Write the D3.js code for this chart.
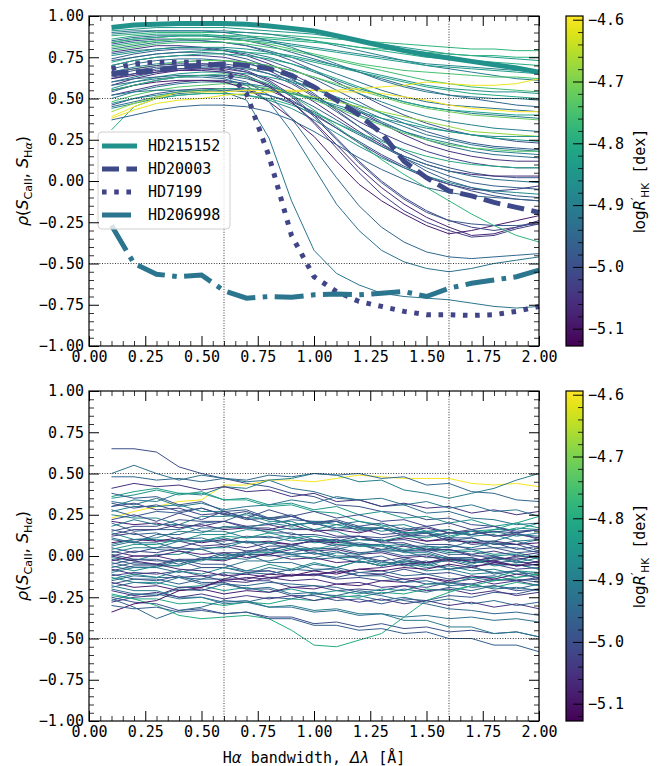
<!DOCTYPE html>
<html>
<head>
<meta charset="utf-8">
<script src="https://cdn.jsdelivr.net/npm/d3@7"></script>
<style>
  body { margin: 0; background: #fff; }
  text { font-family: 'DejaVu Sans Mono', monospace; fill: #000; }
</style>
</head>
<body>
<svg id="chart" width="659" height="766"></svg>
<script>
// H-alpha bandwidths (Angstrom) at which the correlation was computed
const bandwidths = [0.1, 0.2, 0.3, 0.4, 0.5, 0.6, 0.7, 0.8, 0.9, 1.0,
                    1.1, 1.2, 1.3, 1.4, 1.5, 1.6, 1.7, 1.8, 1.9, 2.0];

const xTicks = [0, 0.25, 0.5, 0.75, 1.0, 1.25, 1.5, 1.75, 2.0];
const yTicks = [-1, -0.75, -0.5, -0.25, 0, 0.25, 0.5, 0.75, 1.0];
const cbarTicks = [-5.1, -5.0, -4.9, -4.8, -4.7, -4.6];
const refX = [0.6, 1.6];
const refY = [-0.5, 0.5];
const cbarDomain = [-5.128, -4.594];

// top panel: activity level of each star (log R'HK) and rho x 100
const topLogR = [-4.78, -4.84, -4.90, -4.80, -4.95, -4.88, -5.00, -4.83, -4.93, -4.76,
                 -5.05, -4.91, -4.86, -4.97, -4.81, -5.02, -4.94, -4.89, -4.72, -4.98,
                 -4.92, -5.06, -4.84, -4.96, -5.04, -4.90, -4.74, -5.00, -4.93, -4.87,
                 -5.09, -4.92, -4.95, -4.93, -4.80, -4.68, -4.60, -4.61, -5.07, -5.02,
                 -4.97, -4.86, -4.99, -4.82, -4.75, -4.91, -4.79, -4.96, -5.03, -4.78];
const topRho = [
  [88, 89, 90, 90, 90, 90, 90, 89, 88, 87, 86, 85, 84, 83, 82, 81, 80, 80, 79, 79],
  [91, 92, 93, 93, 93, 93, 92, 91, 90, 89, 87, 85, 83, 81, 79, 77, 76, 75, 74, 73],
  [89, 90, 91, 91, 91, 91, 90, 89, 87, 85, 82, 79, 76, 73, 70, 68, 66, 64, 62, 61],
  [86, 88, 89, 89, 89, 88, 87, 86, 85, 84, 83, 81, 79, 77, 75, 74, 73, 72, 71, 70],
  [85, 87, 88, 88, 88, 87, 85, 82, 78, 74, 70, 66, 62, 58, 55, 52, 50, 48, 46, 45],
  [84, 86, 87, 88, 88, 87, 86, 85, 83, 81, 79, 77, 75, 73, 71, 70, 69, 68, 67, 66],
  [83, 85, 86, 86, 85, 84, 82, 78, 73, 67, 60, 53, 46, 40, 35, 31, 28, 26, 24, 23],
  [82, 84, 85, 86, 86, 86, 85, 84, 82, 80, 78, 76, 74, 72, 70, 69, 68, 67, 66, 65],
  [80, 82, 84, 85, 85, 84, 82, 79, 75, 70, 65, 60, 55, 51, 48, 46, 45, 44, 43, 42],
  [79, 81, 83, 84, 84, 84, 83, 81, 79, 76, 73, 70, 67, 64, 61, 59, 57, 56, 55, 54],
  [78, 80, 82, 82, 81, 79, 76, 71, 65, 58, 50, 42, 35, 28, 22, 18, 15, 13, 12, 12],
  [77, 79, 80, 81, 81, 80, 78, 75, 71, 66, 61, 56, 52, 48, 45, 43, 41, 40, 39, 38],
  [76, 78, 80, 81, 81, 81, 80, 78, 76, 73, 70, 67, 64, 61, 58, 56, 55, 54, 54, 53],
  [74, 77, 79, 80, 80, 79, 77, 73, 68, 62, 55, 48, 41, 35, 30, 26, 23, 21, 20, 19],
  [72, 75, 77, 78, 79, 79, 78, 77, 75, 72, 69, 66, 63, 60, 57, 55, 53, 52, 51, 50],
  [70, 73, 75, 76, 76, 75, 72, 67, 60, 52, 44, 36, 29, 23, 18, 14, 11, 9, 8, 8],
  [68, 71, 73, 74, 74, 73, 71, 68, 63, 57, 50, 43, 36, 30, 25, 21, 18, 16, 15, 14],
  [66, 69, 71, 72, 73, 73, 72, 70, 67, 63, 58, 53, 48, 43, 39, 36, 34, 32, 31, 30],
  [65, 68, 70, 72, 73, 73, 72, 70, 67, 63, 59, 55, 51, 47, 44, 42, 40, 39, 38, 37],
  [62, 65, 68, 70, 71, 71, 69, 65, 59, 51, 42, 33, 25, 18, 12, 8, 5, 3, 2, 2],
  [60, 63, 66, 68, 69, 69, 68, 65, 61, 56, 50, 44, 38, 33, 28, 25, 22, 20, 19, 18],
  [58, 62, 65, 67, 68, 68, 66, 62, 56, 48, 39, 30, 22, 15, 10, 6, 4, 3, 3, 3],
  [56, 60, 63, 65, 66, 66, 65, 63, 60, 56, 51, 46, 41, 37, 33, 30, 28, 26, 25, 24],
  [54, 58, 61, 63, 64, 64, 62, 58, 52, 45, 37, 29, 21, 14, 8, 3, -1, -3, -4, -5],
  [52, 55, 58, 60, 61, 61, 59, 55, 49, 41, 32, 23, 15, 8, 2, -2, -5, -6, -5, -3],
  [50, 54, 57, 59, 60, 60, 59, 57, 54, 50, 45, 40, 35, 30, 26, 23, 20, 18, 17, 16],
  [48, 52, 55, 57, 58, 59, 58, 56, 53, 49, 44, 39, 34, 29, 25, 22, 20, 19, 18, 18],
  [46, 50, 53, 55, 56, 56, 55, 52, 47, 40, 32, 24, 16, 9, 3, -2, -6, -9, -11, -12],
  [45, 48, 51, 53, 54, 55, 54, 52, 48, 42, 35, 28, 21, 15, 10, 6, 3, 1, 0, -1],
  [44, 47, 50, 52, 53, 53, 52, 49, 44, 37, 29, 21, 14, 8, 3, -1, -4, -6, -7, -8],
  [55, 58, 60, 61, 61, 60, 56, 48, 38, 27, 12, -2, -12, -20, -27, -32, -30, -27, -24, -21],
  [52, 54, 55, 55, 55, 54, 49, 26, -12, -42, -56, -63, -68, -70, -71, -72, -74, -76, -77, -76],
  [60, 62, 63, 64, 64, 63, 60, 52, 38, 20, 2, -15, -28, -37, -43, -46, -47, -46, -45, -44],
  [58, 60, 62, 63, 63, 62, 58, 48, 30, 8, -14, -30, -42, -49, -53, -55, -53, -50, -48, -46],
  [31, 45, 50, 52, 53, 53, 52, 50, 46, 41, 35, 29, 24, 19, 15, 12, 10, 9, 8, 8],
  [42, 47, 51, 54, 55, 56, 56, 55, 53, 51, 48, 45, 42, 39, 36, 33, 30, 29, 28, 27],
  [39, 45, 50, 54, 54, 54, 55, 55, 55, 55, 54, 54, 53, 51, 49, 46, 44, 43, 42, 42],
  [38, 43, 47, 49, 50, 52, 53, 54, 54, 55, 55, 56, 57, 58, 60, 59, 58, 58, 59, 62],
  [62, 64, 66, 67, 67, 66, 63, 57, 48, 36, 22, 8, -4, -14, -22, -28, -33, -32, -28, -24],
  [66, 68, 70, 71, 71, 70, 67, 61, 52, 40, 26, 12, 0, -10, -18, -24, -28, -30, -28, -25],
  [73, 75, 77, 78, 78, 77, 74, 69, 62, 53, 43, 33, 23, 14, 6, 0, -4, -7, -9, -10],
  [47, 50, 52, 54, 55, 56, 56, 55, 53, 50, 46, 42, 38, 35, 32, 30, 28, 27, 27, 27],
  [64, 67, 69, 70, 70, 69, 66, 60, 51, 39, 25, 11, -1, -11, -19, -24, -26, -27, -27, -26],
  [70, 73, 75, 76, 77, 77, 76, 74, 71, 67, 62, 57, 52, 48, 45, 43, 42, 41, 40, 40],
  [81, 83, 85, 86, 86, 86, 85, 83, 80, 77, 74, 71, 69, 67, 66, 65, 64, 63, 63, 62],
  [90, 91, 91, 91, 91, 90, 88, 85, 81, 76, 71, 66, 61, 57, 54, 52, 51, 50, 50, 49],
  [84, 86, 87, 88, 88, 88, 88, 87, 86, 85, 83, 81, 80, 79, 78, 77, 76, 76, 75, 75],
  [37, 40, 43, 45, 46, 46, 45, 42, 37, 30, 22, 14, 7, 1, -4, -7, -9, -10, -11, -12],
  [63, 65, 67, 68, 68, 67, 64, 58, 48, 35, 20, 5, -8, -18, -25, -30, -34, -33, -29, -26],
  [55, 58, 61, 63, 64, 65, 63, 59, 52, 43, 33, 23, 13, 4, -4, -12, -20, -27, -33, -37]
];

// highlighted stars in the top panel
const hlNames = ['HD215152', 'HD20003', 'HD7199', 'HD206998'];
const hlLogR = [-4.86, -5.01, -5.02, -4.92];
const hlDash = ['none', '17,7.4', '4.6,7.6', '29,7.4,4.6,7.4'];
const hlRho = [
  [93, 94.5, 95, 95.5, 95.5, 95.5, 95, 94, 92.5, 91, 88, 85, 82, 79, 76.5, 74.5, 72.5, 70.5, 68.5, 66],
  [65, 66, 67, 69, 70, 71, 70, 68, 64, 57, 49, 40, 29, 12, 2, -6, -9, -13, -16, -19],
  [68, 71, 72, 72, 72, 68, 53, 15, -33, -58, -67, -73, -76, -79, -81, -81, -81.5, -81, -79, -76],
  [-27, -50, -56.5, -58, -57, -66.5, -71, -70, -70.5, -69, -68.5, -69, -68, -67, -70, -65, -62, -60, -58, -54]
];

// bottom panel: activity level and rho x 100
const bottomLogR = [-5.00, -4.93, -4.60, -4.90, -4.95, -5.05, -4.85, -4.92, -4.82, -5.02,
                    -4.97, -4.88, -5.08, -4.95, -4.91, -5.00, -4.86, -5.04, -4.96, -5.10,
                    -4.93, -4.99, -4.84, -5.06, -4.90, -4.97, -5.02, -4.88, -4.95, -5.08,
                    -4.92, -5.00, -4.86, -4.99, -5.05, -4.90, -4.96, -5.02, -4.85, -4.94,
                    -5.08, -4.98, -4.81, -4.93, -5.05, -5.00, -4.95, -4.80, -5.10, -4.97,
                    -4.91, -5.03, -4.89, -5.00, -4.94, -4.98, -5.01, -4.93, -4.96, -5.04,
                    -4.90, -4.87, -5.00, -4.95, -5.07];
const bottomRho = [
  [65, 65, 63, 54, 50, 47, 44, 42, 38, 36, 31, 30, 27, 26, 22, 23, 19, 18, 15, 16],
  [50, 55, 50, 46, 49, 47, 45, 46, 41, 39, 35, 34, 30, 31, 26, 27, 23, 22, 19, 20],
  [23, 27, 30, 33, 34, 43, 43, 46, 46, 45, 47, 49, 48, 47, 47, 47, 44, 43, 44, 42],
  [30, 34, 33, 38, 37, 42, 41, 46, 47, 50, 49, 45, 46, 40, 38, 35, 38, 41, 46, 50],
  [48, 48, 46, 47, 45, 47, 46, 49, 48, 50, 49, 50, 47, 48, 43, 44, 39, 38, 34, 33],
  [41, 44, 42, 43, 40, 42, 39, 40, 36, 38, 33, 34, 30, 32, 29, 30, 26, 28, 25, 27],
  [35, 37, 40, 37, 39, 34, 35, 31, 32, 28, 30, 25, 27, 23, 24, 20, 22, 18, 20, 17],
  [33, 31, 35, 30, 32, 28, 30, 31, 34, 32, 36, 34, 35, 31, 33, 29, 31, 27, 28, 24],
  [36, 39, 41, 38, 38, 34, 34, 30, 31, 27, 26, 21, 19, 14, 14, 11, 15, 16, 20, 24],
  [30, 32, 28, 29, 25, 26, 22, 23, 19, 20, 16, 17, 13, 14, 9, 11, 7, 8, 4, 6],
  [28, 24, 27, 26, 29, 25, 23, 19, 22, 21, 21, 17, 17, 14, 14, 11, 11, 7, 7, 3],
  [25, 23, 23, 19, 24, 24, 25, 21, 21, 16, 15, 10, 10, 6, 6, 3, 4, 1, 2, -1],
  [21, 19, 20, 17, 19, 16, 17, 16, 19, 15, 16, 14, 17, 15, 17, 14, 15, 12, 13, 11],
  [20, 15, 16, 16, 20, 21, 26, 23, 24, 20, 21, 17, 17, 14, 14, 9, 9, 5, 5, 2],
  [18, 22, 19, 19, 15, 15, 11, 12, 9, 10, 7, 8, 6, 7, 4, 6, 5, 8, 7, 10],
  [15, 18, 18, 22, 21, 21, 17, 17, 13, 13, 11, 12, 9, 10, 7, 7, 4, 5, 2, 3],
  [14, 10, 10, 9, 13, 13, 16, 15, 17, 16, 19, 16, 17, 14, 15, 12, 15, 14, 17, 16],
  [12, 14, 9, 9, 6, 7, 5, 8, 7, 9, 6, 7, 4, 6, 3, 4, 1, 3, 0, 2],
  [10, 8, 13, 13, 17, 17, 18, 14, 14, 10, 10, 6, 7, 3, 4, 1, 1, -2, -1, -4],
  [8, 10, 9, 11, 8, 10, 8, 9, 7, 9, 8, 10, 9, 11, 9, 10, 8, 9, 7, 8],
  [6, 9, 4, 3, -1, -1, -2, 2, 2, 5, 4, 7, 3, 3, -1, -1, -4, -3, -6, -5],
  [5, 2, 5, 5, 9, 9, 12, 11, 12, 9, 10, 7, 7, 3, 3, -1, -1, -5, -5, -8],
  [4, 7, 7, 10, 9, 12, 11, 14, 11, 12, 9, 10, 9, 12, 11, 14, 13, 16, 16, 20],
  [3, 0, 0, -3, -2, -3, 1, 1, 4, 3, 4, 1, 2, -1, 0, -3, -2, -3, 0, -1],
  [2, 5, 5, 9, 9, 11, 8, 8, 4, 4, 0, 0, -4, -4, -7, -6, -9, -8, -11, -10],
  [1, -2, -2, -5, -1, -1, 3, 3, 7, 4, 5, 2, 3, 0, 1, -2, -1, -4, -3, -6],
  [0, 3, 2, 5, 4, 6, 3, 4, 1, 2, -1, 0, -3, -1, -4, -3, -6, -5, -8, -7],
  [-1, -3, 1, 1, 5, 5, 9, 8, 11, 8, 9, 6, 6, 2, 2, -2, -2, -6, -5, -8],
  [-2, -5, -5, -6, -2, -2, 1, 0, 1, -2, -1, -4, -3, -6, -5, -8, -7, -10, -9, -12],
  [-3, 0, 0, 3, 1, 2, -1, 1, -2, -1, -4, -3, -6, -3, -4, -1, -4, -3, -6, -5],
  [-4, -7, -7, -10, -7, -7, -3, -3, 0, -1, 2, 1, 4, 3, 6, 5, 9, 9, 13, 12],
  [-5, -2, -3, -3, -7, -7, -10, -9, -12, -11, -14, -13, -15, -14, -17, -16, -19, -18, -21, -20],
  [-6, -9, -6, -6, -2, -2, 2, 2, 5, 4, 7, 6, 7, 4, 5, 2, 3, 0, 1, -2],
  [-7, -4, -5, -2, -5, -5, -9, -9, -12, -11, -13, -10, -11, -8, -11, -10, -13, -12, -15, -14],
  [-8, -11, -10, -13, -12, -15, -13, -14, -11, -12, -9, -12, -11, -14, -13, -16, -14, -17, -15, -18],
  [-10, -7, -7, -3, -3, 1, 1, 4, 1, 2, -1, -1, -5, -5, -9, -8, -11, -10, -13, -11],
  [-11, -14, -14, -17, -14, -14, -10, -11, -8, -9, -7, -10, -9, -12, -11, -14, -13, -15, -14, -16],
  [-12, -10, -11, -9, -12, -11, -15, -15, -19, -18, -21, -20, -21, -18, -19, -16, -17, -14, -15, -13],
  [-13, -16, -16, -19, -18, -21, -19, -22, -20, -23, -21, -23, -20, -21, -17, -17, -13, -13, -9, -10],
  [-15, -12, -13, -13, -17, -17, -20, -19, -23, -22, -25, -24, -27, -25, -28, -26, -29, -27, -30, -28],
  [-16, -19, -18, -21, -20, -23, -21, -22, -19, -20, -17, -18, -15, -16, -13, -15, -12, -14, -11, -13],
  [-17, -14, -15, -12, -16, -16, -20, -20, -24, -24, -27, -26, -29, -26, -27, -24, -25, -22, -23, -20],
  [-23, -26, -26, -29, -28, -30, -28, -29, -26, -27, -24, -25, -22, -23, -20, -21, -18, -19, -16, -18],
  [-20, -23, -23, -26, -25, -28, -27, -31, -31, -34, -33, -36, -35, -37, -36, -38, -37, -39, -38, -40],
  [-28, -25, -24, -19, -19, -15, -16, -13, -15, -14, -17, -16, -19, -18, -21, -20, -23, -21, -24, -22],
  [-25, -28, -29, -33, -32, -35, -34, -37, -37, -41, -40, -43, -41, -44, -43, -46, -45, -47, -46, -49],
  [-26, -31, -38, -33, -31, -27, -28, -25, -26, -23, -24, -21, -23, -20, -22, -19, -21, -18, -20, -17],
  [-24, -26, -30, -36, -38, -37, -36, -38, -45, -54, -55, -51, -47, -37, -27, -22, -18, -15, -13, -11],
  [-34, -29, -27, -21, -19, -14, -14, -11, -12, -9, -11, -8, -9, -7, -8, -5, -7, -4, -6, -3],
  [-30, -32, -31, -34, -33, -35, -34, -38, -38, -42, -42, -45, -44, -47, -46, -50, -50, -54, -54, -58],
  [-18, -21, -21, -25, -25, -29, -28, -31, -30, -33, -32, -35, -35, -39, -39, -43, -43, -47, -46, -49],
  [13, 16, 16, 19, 18, 21, 18, 19, 16, 16, 12, 12, 8, 8, 4, 4, 0, 0, -4, -4],
  [27, 30, 30, 31, 27, 27, 23, 23, 19, 20, 17, 18, 15, 17, 14, 16, 13, 15, 12, 14],
  [-9, -6, -6, -2, -2, 2, 2, 6, 6, 10, 9, 12, 11, 13, 12, 14, 13, 15, 14, 16],
  [11, 8, 8, 4, 4, 0, 1, -4, -4, -8, -8, -12, -12, -16, -15, -18, -17, -20, -19, -21],
  [38, 35, 36, 31, 33, 27, 28, 23, 25, 19, 21, 15, 17, 12, 14, 9, 11, 7, 9, 5],
  [22, 25, 21, 26, 22, 27, 23, 28, 24, 27, 23, 25, 21, 22, 18, 20, 16, 18, 14, 16],
  [-19, -16, -17, -13, -14, -10, -11, -7, -9, -5, -7, -3, -6, -2, -5, -1, -4, 0, -3, 1],
  [16, 13, 14, 10, 11, 7, 9, 4, 6, 1, 3, -2, 0, -5, -3, -8, -6, -11, -9, -14],
  [-21, -24, -22, -25, -23, -26, -24, -26, -24, -27, -25, -28, -26, -29, -27, -30, -28, -31, -29, -32],
  [7, 10, 11, 15, 14, 18, 17, 20, 18, 21, 19, 21, 18, 19, 15, 16, 12, 13, 9, 10],
  [-14, -11, -13, -9, -11, -7, -9, -5, -8, -4, -7, -3, -6, -3, -6, -2, -5, -1, -4, -1],
  [32, 29, 31, 27, 29, 25, 27, 22, 24, 20, 22, 18, 20, 16, 18, 14, 16, 12, 14, 10],
  [-27, -23, -24, -20, -21, -17, -18, -16, -17, -18, -19, -22, -24, -27, -29, -32, -33, -35, -34, -36],
  [0, -3, -5, -8, -9, -12, -11, -13, -12, -11, -10, -8, -7, -5, -4, -2, -3, -1, -2, 0]
];

const svg = d3.select('#chart');
const color = d3.scaleSequential(d3.interpolateViridis).domain(cbarDomain);

const plotLeft = 89, plotRight = 539;
const cbarLeft = 566, cbarRight = 583;
const majorLen = 10, minorLen = 5;

// gradient for both colorbars
const grad = svg.append('defs').append('linearGradient')
    .attr('id', 'viridis-grad')
    .attr('x1', 0).attr('y1', 1).attr('x2', 0).attr('y2', 0);
d3.range(0, 1.0001, 0.05).forEach(t => {
    grad.append('stop').attr('offset', t).attr('stop-color', d3.interpolateViridis(t));
});

// text with math parts: {t, it, sub, sup, math}
function richText(sel, parts) {
    let shift = 0;
    parts.forEach(p => {
        const ts = sel.append('tspan').text(p.t);
        if (p.math || p.it) ts.style('font-family', "'DejaVu Sans', sans-serif");
        if (p.it) ts.style('font-style', 'italic');
        let target = 0;
        if (p.sub) target = 4;
        if (p.sup) target = -6;
        if (p.sub || p.sup) ts.style('font-size', '70%');
        if (target !== shift) { ts.attr('dy', target - shift); shift = target; }
    });
}

function drawPanel(top, bottom, rows, logRs, withHighlights) {
    const x = d3.scaleLinear().domain([0, 2]).range([plotLeft, plotRight]);
    const y = d3.scaleLinear().domain([-1, 1]).range([bottom, top]);
    const g = svg.append('g');

    const line = d3.line()
        .x((d, i) => x(bandwidths[i]))
        .y(d => y(d / 100));

    g.append('g').selectAll('path')
        .data(rows)
        .join('path')
        .attr('d', line)
        .attr('fill', 'none')
        .attr('stroke', (d, i) => color(logRs[i]))
        .attr('stroke-width', 1);

    // dotted reference lines
    refX.forEach(v => {
        g.append('line')
            .attr('x1', x(v)).attr('x2', x(v)).attr('y1', top).attr('y2', bottom)
            .attr('stroke', '#222').attr('stroke-width', 0.9).attr('stroke-dasharray', '1,1.6');
    });
    refY.forEach(v => {
        g.append('line')
            .attr('x1', plotLeft).attr('x2', plotRight).attr('y1', y(v)).attr('y2', y(v))
            .attr('stroke', '#222').attr('stroke-width', 0.9).attr('stroke-dasharray', '1,1.6');
    });

    if (withHighlights) {
        g.append('g').selectAll('path')
            .data(hlRho)
            .join('path')
            .attr('d', line)
            .attr('fill', 'none')
            .attr('stroke', (d, i) => color(hlLogR[i]))
            .attr('stroke-width', 5)
            .attr('stroke-dasharray', (d, i) => hlDash[i]);

        const lg = g.append('g').attr('transform', 'translate(98,132)');
        lg.append('rect')
            .attr('width', 132).attr('height', 97).attr('rx', 4)
            .attr('fill', 'rgba(255,255,255,0.8)').attr('stroke', '#d0d0d0');
        hlNames.forEach((name, i) => {
            const yy = 14 + i * 23;
            lg.append('line')
                .attr('x1', 4).attr('x2', 39).attr('y1', yy).attr('y2', yy)
                .attr('stroke', color(hlLogR[i])).attr('stroke-width', 5)
                .attr('stroke-dasharray', hlDash[i]);
            lg.append('text')
                .attr('x', 50).attr('y', yy).attr('dy', '0.35em')
                .style('font-size', '15px')
                .text(name);
        });
    }

    // axes with inward ticks on all sides
    const minorX = d3.range(0, 2.0001, 0.05).filter((v, i) => i % 5 !== 0);
    const minorY = d3.range(-1, 1.0001, 0.05).filter((v, i) => i % 5 !== 0);

    const axes = [
        [d3.axisBottom(x).tickValues(xTicks).tickFormat(d3.format('.2f')), `translate(0,${bottom})`],
        [d3.axisTop(x).tickValues(xTicks).tickFormat(''), `translate(0,${top})`],
        [d3.axisLeft(y).tickValues(yTicks).tickFormat(d3.format('.2f')), `translate(${plotLeft},0)`],
        [d3.axisRight(y).tickValues(yTicks).tickFormat(''), `translate(${plotRight},0)`]
    ];
    axes.forEach(([ax, tr]) => {
        const a = g.append('g').attr('transform', tr)
            .call(ax.tickSize(-majorLen).tickPadding(5));
        a.select('.domain').remove();
        a.selectAll('line').attr('stroke', '#000').attr('stroke-width', 1);
        a.selectAll('text').style('font-size', '15px').style('font-family', "'DejaVu Sans Mono', monospace").attr('fill', '#000');
    });
    const minorAxes = [
        [d3.axisBottom(x).tickValues(minorX), `translate(0,${bottom})`],
        [d3.axisTop(x).tickValues(minorX), `translate(0,${top})`],
        [d3.axisLeft(y).tickValues(minorY), `translate(${plotLeft},0)`],
        [d3.axisRight(y).tickValues(minorY), `translate(${plotRight},0)`]
    ];
    minorAxes.forEach(([ax, tr]) => {
        const a = g.append('g').attr('transform', tr)
            .call(ax.tickSize(-minorLen).tickFormat(''));
        a.select('.domain').remove();
        a.selectAll('line').attr('stroke', '#000').attr('stroke-width', 0.8);
    });

    g.append('rect')
        .attr('x', plotLeft).attr('y', top)
        .attr('width', plotRight - plotLeft).attr('height', bottom - top)
        .attr('fill', 'none').attr('stroke', '#000').attr('stroke-width', 1.2);

    // y label
    const yl = g.append('text')
        .attr('transform', `translate(28,${(top + bottom) / 2}) rotate(-90)`)
        .attr('text-anchor', 'middle')
        .style('font-size', '16px');
    richText(yl, [
        { t: 'ρ', it: true }, { t: '(', math: true }, { t: 'S', it: true },
        { t: 'CaII', math: true, sub: true }, { t: ', ', math: true }, { t: 'S', it: true },
        { t: 'H', math: true, sub: true }, { t: 'α', it: true, sub: true }, { t: ')', math: true }
    ]);

    // colorbar
    const cy = d3.scaleLinear().domain(cbarDomain).range([bottom, top]);
    g.append('rect')
        .attr('x', cbarLeft).attr('y', top)
        .attr('width', cbarRight - cbarLeft).attr('height', bottom - top)
        .attr('fill', 'url(#viridis-grad)');
    const cMinor = d3.range(-5.12, -4.5999, 0.02).filter(v => Math.abs(v * 10 - Math.round(v * 10)) > 0.01);
    const ca = g.append('g').attr('transform', `translate(${cbarRight},0)`)
        .call(d3.axisRight(cy).tickValues(cbarTicks).tickFormat(d3.format('.1f')).tickSize(-majorLen).tickPadding(5));
    ca.select('.domain').remove();
    ca.selectAll('line').attr('stroke', '#000');
    ca.selectAll('text').style('font-size', '15px').style('font-family', "'DejaVu Sans Mono', monospace").attr('fill', '#000');
    const cm = g.append('g').attr('transform', `translate(${cbarRight},0)`)
        .call(d3.axisRight(cy).tickValues(cMinor).tickFormat('').tickSize(-minorLen));
    cm.select('.domain').remove();
    cm.selectAll('line').attr('stroke', '#000').attr('stroke-width', 0.8);
    g.append('rect')
        .attr('x', cbarLeft).attr('y', top)
        .attr('width', cbarRight - cbarLeft).attr('height', bottom - top)
        .attr('fill', 'none').attr('stroke', '#000').attr('stroke-width', 1.2);

    const cl = g.append('text')
        .attr('transform', `translate(645,${(top + bottom) / 2}) rotate(-90)`)
        .attr('text-anchor', 'middle')
        .style('font-size', '15px');
    richText(cl, [
        { t: 'log', math: true }, { t: 'R', it: true }, { t: '′', math: true, sup: true },
        { t: 'HK', math: true, sub: true }, { t: ' [dex]' }
    ]);
}

drawPanel(16, 346, topRho, topLogR, true);
drawPanel(391, 721, bottomRho, bottomLogR, false);

// x label (bottom panel only)
const xl = svg.append('text')
    .attr('x', 314).attr('y', 763)
    .attr('text-anchor', 'middle')
    .style('font-size', '15px');
richText(xl, [
    { t: 'H' }, { t: 'α', it: true }, { t: ' bandwidth, ' },
    { t: 'Δλ', it: true }, { t: ' [Å]' }
]);
</script>
</body>
</html>
